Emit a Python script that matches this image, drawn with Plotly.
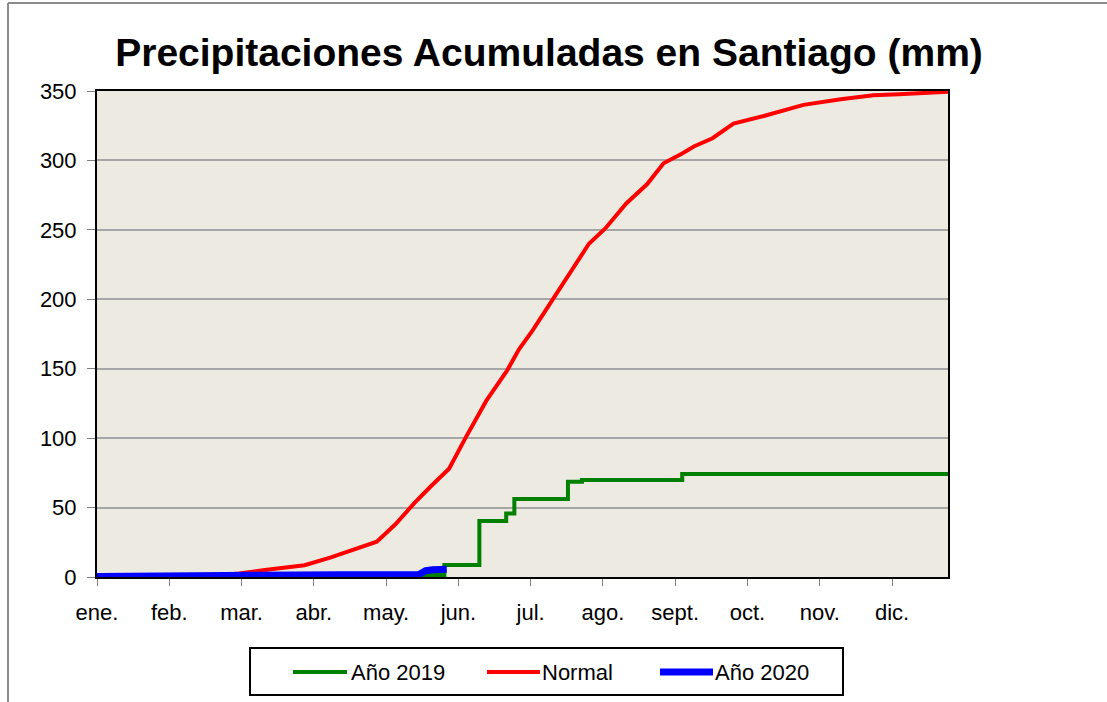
import plotly.graph_objects as go

# ---- data ----
month_labels = ["ene.", "feb.", "mar.", "abr.", "may.", "jun.",
                "jul.", "ago.", "sept.", "oct.", "nov.", "dic."]
month_tick_days = [0, 31, 62, 93, 124, 155, 186, 217, 248, 279, 310, 341]

normal_days = [0, 44, 52, 61, 72, 89, 100, 110, 120, 128, 136, 143, 151, 158,
               167, 176, 181, 187, 195, 203, 211, 218, 227, 236, 243, 251,
               256, 264, 273, 286, 303, 319, 333, 344, 359, 365]
normal_vals = [0, 0.3, 1.2, 2.5, 5, 8.5, 14, 19.5, 25.4, 38, 53, 65, 78, 100,
               127, 149, 164, 178, 199, 220, 240, 251, 269, 283, 298, 305,
               310, 316, 326.5, 332, 340, 344, 347, 347.7, 348.7, 349.4]

y2019_days = [0, 89, 149, 164, 175.5, 179, 202, 208, 251, 365]
y2019_vals = [0.3, 1.5, 8.6, 40.3, 45.8, 56.1, 68.6, 69.8, 74.2, 74.2]

y2020_days = [0, 102, 104, 138, 141, 144, 150]
y2020_vals = [0.4, 0.4, 1.6, 1.8, 4.5, 5.2, 5.5]

y_ticks = [0, 50, 100, 150, 200, 250, 300, 350]

title_text = "Precipitaciones Acumuladas en Santiago (mm)"
series_names = ["Año 2019", "Normal", "Año 2020"]
series_colors = ["#008000", "#FF0000", "#0000FF"]

FONT = "Liberation Sans"

fig = go.Figure()
fig.add_trace(go.Scatter(x=y2019_days, y=y2019_vals, mode="lines",
                         line=dict(color=series_colors[0], width=4, shape="hv"),
                         name=series_names[0], showlegend=False))
fig.add_trace(go.Scatter(x=normal_days, y=normal_vals, mode="lines",
                         line=dict(color=series_colors[1], width=4),
                         name=series_names[1], showlegend=False))
fig.add_trace(go.Scatter(x=y2020_days, y=y2020_vals, mode="lines",
                         line=dict(color=series_colors[2], width=7),
                         name=series_names[2], showlegend=False))

W, H = 1107, 702
L, R, T, B = 97, 948, 91, 577


def px(xp):
    return (xp - L) / (R - L)


def py(yp):
    return (B - yp) / (B - T)


shapes = []
# outer frame lines (cropped Excel chart border)
shapes.append(dict(type="line", xref="paper", yref="paper",
                   x0=px(8), x1=px(8), y0=py(3), y1=py(702),
                   line=dict(color="#8C8C8C", width=2)))
shapes.append(dict(type="line", xref="paper", yref="paper",
                   x0=px(8), x1=px(1107), y0=py(3), y1=py(3),
                   line=dict(color="#8C8C8C", width=2)))
# legend box
shapes.append(dict(type="rect", xref="paper", yref="paper",
                   x0=px(250), x1=px(843), y0=py(648), y1=py(695),
                   line=dict(color="black", width=2), fillcolor="white"))
annotations = []
legend_items = [(293, 347, 349), (487, 540, 540), (660, 713, 713)]
for i, (a, b, t) in enumerate(legend_items):
    shapes.append(dict(type="line", xref="paper", yref="paper",
                       x0=px(a), x1=px(b), y0=py(672), y1=py(672),
                       line=dict(color=series_colors[i], width=4 if i < 2 else 7)))
    annotations.append(dict(xref="paper", yref="paper", x=px(t), y=py(672),
                            text=series_names[i], showarrow=False,
                            xanchor="left", yanchor="middle",
                            font=dict(family=FONT, size=22, color="black")))

fig.update_layout(
    width=W, height=H,
    margin=dict(l=L, r=W - R, t=T, b=H - B, pad=0),
    paper_bgcolor="white",
    plot_bgcolor="#EDEBE1",
    title=dict(text="<b>" + title_text + "</b>", x=549 / W, xref="container",
               xanchor="center", y=1 - 52 / H, yref="container", yanchor="middle",
               font=dict(family=FONT, size=39, color="black")),
    xaxis=dict(range=[0, 365], tickmode="array", tickvals=month_tick_days,
               ticktext=month_labels, showgrid=False, zeroline=False,
               ticks="outside", ticklen=7, tickcolor="#808080", tickwidth=1,
               showline=True, linecolor="black", linewidth=2, mirror=True,
               tickfont=dict(family=FONT, size=22, color="black"),
               ticklabelstandoff=8),
    yaxis=dict(range=[0, 350], tickmode="array", tickvals=y_ticks,
               showgrid=True, gridcolor="#A6A6A6", gridwidth=1.5, zeroline=False,
               ticks="outside", ticklen=8, tickcolor="#808080", tickwidth=1,
               showline=True, linecolor="black", linewidth=2, mirror=True,
               tickfont=dict(family=FONT, size=22, color="black"),
               ticklabelstandoff=6),
    shapes=shapes,
    annotations=annotations,
    showlegend=False,
)

fig.write_html("out.html",
               config={"displayModeBar": False},
               post_script="document.body.style.margin='0';document.body.style.overflow='hidden';")
